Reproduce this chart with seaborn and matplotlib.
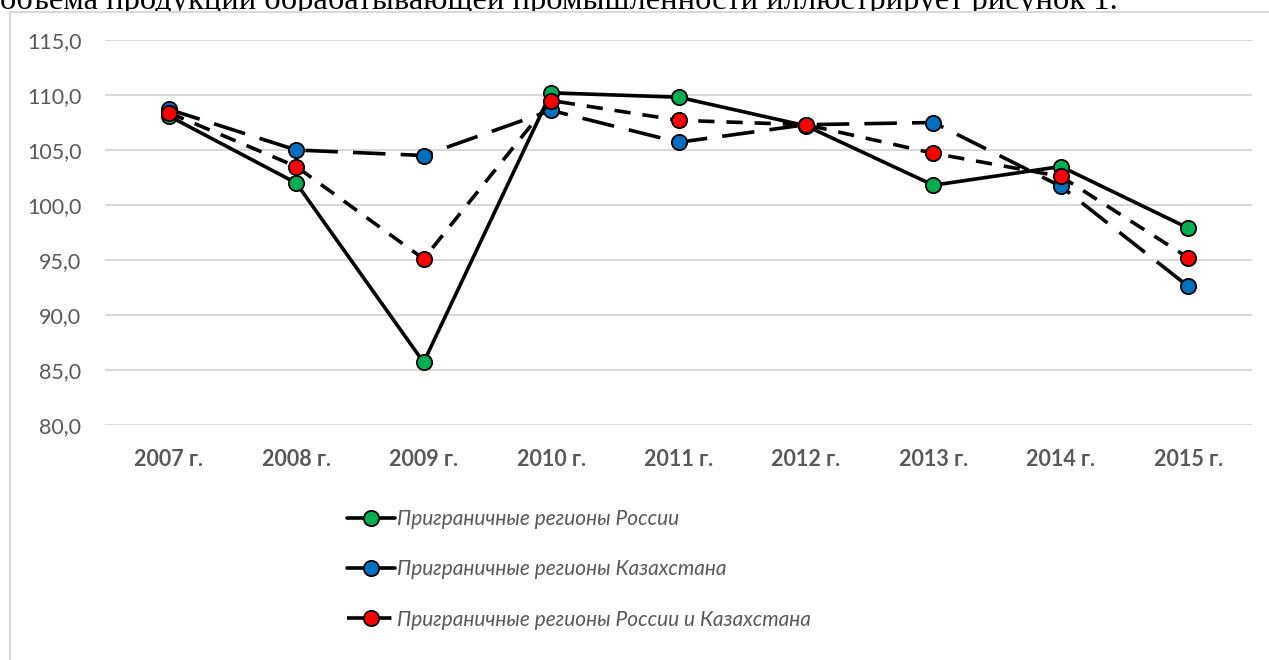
import numpy as np
import pandas as pd
import matplotlib
matplotlib.use("Agg")
import matplotlib.pyplot as plt
from matplotlib.patches import Rectangle
import seaborn as sns

# ==============================
# data
# ==============================
years = ["2007 г.", "2008 г.", "2009 г.", "2010 г.", "2011 г.",
         "2012 г.", "2013 г.", "2014 г.", "2015 г."]
russia = [108.1, 102.0, 85.7, 110.2, 109.8, 107.2, 101.8, 103.5, 97.9]
kazakh = [108.7, 105.0, 104.5, 108.6, 105.7, 107.3, 107.5, 101.7, 92.6]
both = [108.4, 103.5, 95.1, 109.5, 107.7, 107.3, 104.7, 102.6, 95.2]

labels = ["Приграничные регионы России",
          "Приграничные регионы Казахстана",
          "Приграничные регионы России и Казахстана"]
yticks = [80, 85, 90, 95, 100, 105, 110, 115]
top_text = "объема продукции обрабатывающей промышленности иллюстрирует рисунок 1."

df = pd.DataFrame({"pos": np.arange(len(years)), "year": years,
                   "russia": russia, "kazakh": kazakh, "both": both})

sns.set_theme(style="white")
plt.rcParams["font.family"] = ["Lato", "DejaVu Sans"]

W, H = 1269, 660
fig = plt.figure(figsize=(W / 100, H / 100), dpi=100)

# document text line above the chart, partly hidden by the chart box
fig.text(0, 1 - 9 / H, top_text, family="Liberation Serif", fontsize=23.4,
         color="black", ha="left", va="baseline", zorder=0)
# chart box: only top and left edges are inside the picture
fig.add_artist(Rectangle((10 / W, -0.1), 1.2, 1.1 - 12 / H,
                         transform=fig.transFigure, facecolor="white",
                         edgecolor="#d9d9d9", linewidth=1.5, zorder=1))

ax = fig.add_axes([105 / W, 1 - 425 / H, 1147 / W, 385 / H])
ax.set_zorder(2)
ax.patch.set_alpha(0)

# ==============================
# series
# ==============================
styles = [
    ("russia", "#00B050", None),
    ("kazakh", "#0070C0", (9, 4.2)),
    ("both", "#FF0000", (4.5, 3.3)),
]
for (col, mcolor, dash), lab in zip(styles, labels):
    sns.lineplot(data=df, x="pos", y=col, ax=ax, color="black",
                 linewidth=2.6, marker="o", markersize=11,
                 markerfacecolor=mcolor, markeredgecolor="black",
                 markeredgewidth=1.3, label=lab)
    if dash is not None:
        ax.lines[-1].set_dashes(dash)

# ==============================
# axes styling
# ==============================
ax.set_xlim(-0.5, len(years) - 0.5)
ax.set_ylim(80, 115)
ax.set_yticks(yticks)
ax.set_yticklabels([f"{v:.1f}".replace(".", ",") for v in yticks],
                   fontsize=15.5, color="#595959")
ax.set_xticks(df["pos"])
ax.set_xticklabels(years, fontsize=15.5, fontweight="bold", color="#595959")
ax.tick_params(axis="x", length=0, pad=17)
ax.tick_params(axis="y", length=0, pad=17)
ax.set_xlabel("")
ax.set_ylabel("")
ax.grid(axis="y", color="#d9d9d9", linewidth=1.5)
ax.set_axisbelow(True)
for s in ax.spines.values():
    s.set_visible(False)

leg = ax.legend(loc="upper left", bbox_to_anchor=(223 / 1147, -0.17),
                frameon=False, handlelength=2.3,
                handletextpad=0.12, labelspacing=1.45,
                prop={"style": "italic", "size": 15})
leg.get_lines()[1].set_linestyle("-")
for t in leg.get_texts():
    t.set_color("#595959")

fig.savefig("out.png", dpi=100, facecolor="white")
